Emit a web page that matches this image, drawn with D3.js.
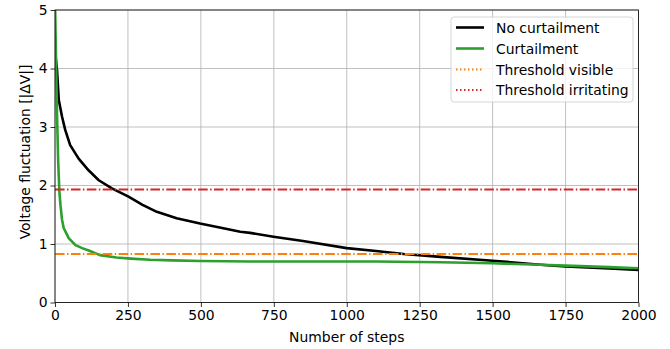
<!DOCTYPE html>
<html><head><meta charset="utf-8">
<script src="https://cdn.jsdelivr.net/npm/d3@7/dist/d3.min.js"></script>
<style>body{margin:0;background:#fff}svg{display:block}text{font-family:"DejaVu Sans",sans-serif}</style>
</head><body><svg id="c" width="670" height="349"></svg>
<script>
const xTicks = [0,250,500,750,1000,1250,1500,1750,2000];
const yTicks = [0,1,2,3,4,5];
const noCurtSteps = [0,3,7,13,24,35,52,81,115,150,195,252,300,349,417,497,577,635,669,749,850,1000,1100,1195,1321,1500,1664,1750,1900,2000];
const noCurtVals  = [4.35,4.15,3.97,3.46,3.18,2.95,2.69,2.46,2.26,2.09,1.95,1.81,1.67,1.55,1.44,1.35,1.27,1.21,1.19,1.125,1.05,0.93,0.88,0.83,0.78,0.715,0.645,0.615,0.58,0.556];
const curtSteps = [0,3,7,11,15,19,24,30,47,70,93,120,154,211,260,326,400,497,669,900,1100,1321,1500,1664,1750,1900,2000];
const curtVals  = [5.2,4.3,3.2,2.4,1.9,1.65,1.42,1.27,1.1,0.98,0.93,0.88,0.81,0.77,0.75,0.73,0.72,0.71,0.70,0.70,0.70,0.687,0.67,0.645,0.63,0.605,0.585];
const thresholdVisible = 0.83;
const thresholdIrritating = 1.93;
const seriesNames = ["No curtailment","Curtailment","Threshold visible","Threshold irritating"];

const L=55, R=638.5, T=10, B=302.5, FS=13.9;
const svg = d3.select("#c");
const x = d3.scaleLinear().domain([0,2000]).range([L,R]);
const y = d3.scaleLinear().domain([0,5]).range([B,T]);

svg.append("defs").append("clipPath").attr("id","clip").append("rect")
  .attr("x",L).attr("y",T).attr("width",R-L).attr("height",B-T);

// grid
const g = svg.append("g");
g.selectAll(".gx").data(xTicks).join("line").attr("x1",d=>x(d)).attr("x2",d=>x(d))
  .attr("y1",T).attr("y2",B).attr("stroke","#b0b0b0").attr("stroke-width",0.8);
g.selectAll(".gy").data(yTicks).join("line").attr("y1",d=>y(d)).attr("y2",d=>y(d))
  .attr("x1",L).attr("x2",R).attr("stroke","#b0b0b0").attr("stroke-width",0.8);

const plot = svg.append("g").attr("clip-path","url(#clip)");
const line = d3.line().x(d=>x(d[0])).y(d=>y(d[1]));
plot.append("path").datum(noCurtSteps.map((s,i)=>[s,noCurtVals[i]])).attr("d",line)
  .attr("fill","none").attr("stroke","#000").attr("stroke-width",2.6).attr("stroke-linejoin","round");
plot.append("path").datum(curtSteps.map((s,i)=>[s,curtVals[i]])).attr("d",line)
  .attr("fill","none").attr("stroke","#2ca02c").attr("stroke-width",2.6).attr("stroke-linejoin","round");
const dashdot = "9.6,2.4,1.5,2.4";
[[thresholdVisible,"#ff7f0e"],[thresholdIrritating,"#d62728"]].forEach(([v,c])=>{
  plot.append("line").attr("x1",x(0)).attr("x2",x(2000)).attr("y1",y(v)).attr("y2",y(v))
    .attr("stroke",c).attr("stroke-width",2).attr("stroke-dasharray",dashdot);
});

// axes
const xa = svg.append("g").attr("transform",`translate(0,${B})`)
  .call(d3.axisBottom(x).tickValues(xTicks).tickSize(4.5).tickPadding(3).tickFormat(d3.format("d")));
const ya = svg.append("g").attr("transform",`translate(${L},0)`)
  .call(d3.axisLeft(y).tickValues(yTicks).tickSize(4.5).tickPadding(3).tickFormat(d3.format("d")));
[xa,ya].forEach(a=>{a.select(".domain").remove();
  a.selectAll("text").attr("font-size",FS).attr("fill","#000").attr("font-family","DejaVu Sans");
  a.selectAll("line").attr("stroke","#000").attr("stroke-width",0.8);});
svg.append("rect").attr("x",L).attr("y",T).attr("width",R-L).attr("height",B-T)
  .attr("fill","none").attr("stroke","#000").attr("stroke-width",0.8);

svg.append("text").attr("x",(L+R)/2).attr("y",342).attr("text-anchor","middle")
  .attr("font-size",FS).text("Number of steps");
svg.append("text").attr("transform",`translate(29.5,152) rotate(-90)`).attr("text-anchor","middle")
  .attr("font-size",FS).text("Voltage fluctuation [|ΔV|]");

// legend
const lg = svg.append("g");
lg.append("rect").attr("x",451).attr("y",17).attr("width",182).attr("height",85).attr("rx",3)
  .attr("fill","#fff").attr("fill-opacity",0.8).attr("stroke","#cccccc").attr("stroke-width",0.8);
const legStyle = [["#000",null,2.6],["#2ca02c",null,2.6],["#ff7f0e","1.5,2.5",2],["#d62728","1.5,2.5",2]];
const rowsY = [27.5,48.5,69.5,90];
seriesNames.forEach((n,i)=>{
  const [c,da,w] = legStyle[i];
  const l = lg.append("line").attr("x1",456).attr("x2",484).attr("y1",rowsY[i]).attr("y2",rowsY[i])
    .attr("stroke",c).attr("stroke-width",w);
  if(da) l.attr("stroke-dasharray",da);
  lg.append("text").attr("x",496).attr("y",rowsY[i]).attr("dy","0.36em").attr("font-size",FS).text(n);
});
</script></body></html>
